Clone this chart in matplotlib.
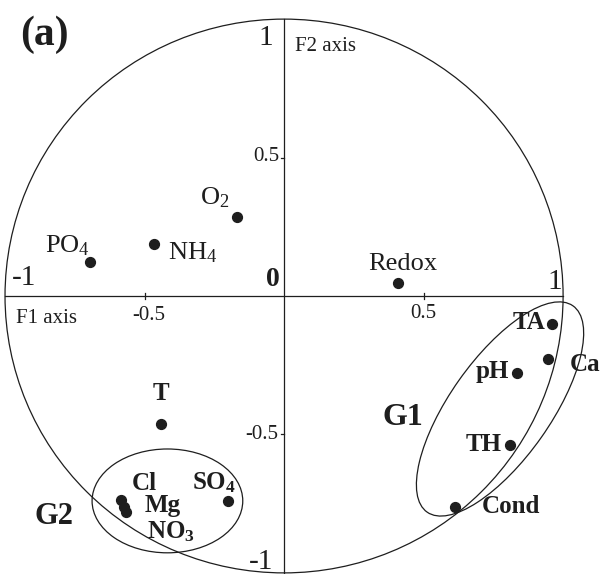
import matplotlib
matplotlib.use("Agg")
import matplotlib.pyplot as plt
from matplotlib.patches import Ellipse

plt.rcParams['font.family'] = ['Liberation Serif', 'DejaVu Serif']
plt.rcParams['mathtext.fontset'] = 'custom'
plt.rcParams['mathtext.rm'] = 'Liberation Serif'
plt.rcParams['mathtext.bf'] = 'Liberation Serif:bold'
plt.rcParams['mathtext.it'] = 'Liberation Serif:italic'

# ---- data (F1, F2 loadings) ----
variables = ['PO4', 'NH4', 'O2', 'Redox', 'TA', 'Ca', 'pH', 'TH', 'Cond',
             'T', 'SO4', 'Cl', 'Mg', 'NO3']
labels = [r'PO$_4$', r'NH$_4$', r'O$_2$', 'Redox', 'TA', 'Ca', 'pH', 'TH', 'Cond',
          'T', r'SO$_\mathbf{4}$', 'Cl', 'Mg', r'NO$_\mathbf{3}$']
f1 = [-0.695, -0.466, -0.168, 0.409, 0.961, 0.946, 0.835, 0.810, 0.613,
      -0.441, -0.201, -0.584, -0.573, -0.566]
f2 = [0.123, 0.188, 0.285, 0.047, -0.101, -0.227, -0.278, -0.538, -0.762,
      -0.462, -0.740, -0.736, -0.762, -0.780]
bold = [False, False, False, False, True, True, True, True, True,
        True, True, True, True, True]
# label offsets (points)
offsets = [(-16, 12), (28, -6), (-16, 14), (3, 14), (-17, 1), (27, -4),
           (-18, 1), (-19, 0), (40, 0), (0, 22), (-10, 13), (17, 12),
           (28, 1), (32, -14)]

fig = plt.figure(figsize=(6.03, 5.74), dpi=100)
ax = fig.add_axes([0, 0, 1, 1])
ax.set_xlim(-1.018, 1.143)
ax.set_ylim(-1.004, 1.069)
ax.axis('off')

ink = '#1e1e1e'
lw = 0.9
# correlation circle
ax.add_patch(Ellipse((0, 0), 2, 2, fill=False, lw=lw, color=ink))
# axes
ax.plot([-1, 1], [0, 0], color=ink, lw=lw)
ax.plot([0, 0], [-1, 1], color=ink, lw=lw)
# tick marks
for t in [-0.5, 0.5]:
    ax.plot([t, t], [-0.012, 0.012], color=ink, lw=lw)
    ax.plot([-0.012, 0], [t, t], color=ink, lw=lw)

# group ellipses
ax.add_patch(Ellipse((0.774, -0.408), 0.91, 0.36, angle=55, fill=False, lw=lw, color=ink))
ax.add_patch(Ellipse((-0.418, -0.740), 0.54, 0.375, angle=0, fill=False, lw=lw, color=ink))

# points & labels
ax.scatter(f1, f2, s=50, color=ink, zorder=3)
for x, y, lab, b, off in zip(f1, f2, labels, bold, offsets):
    ax.annotate(lab, (x, y), xytext=off, textcoords='offset points',
                ha='center', va='center', fontsize=18 if b else 19,
                fontweight='bold' if b else 'normal', color=ink)

# group labels
ax.text(0.427, -0.44, 'G1', fontsize=23, fontweight='bold', ha='center', va='center', color=ink)
ax.text(-0.826, -0.798, 'G2', fontsize=22, fontweight='bold', ha='center', va='center', color=ink)

# axis texts
ax.text(-0.858, 0.945, '(a)', fontsize=30, fontweight='bold', ha='center', va='center', color=ink)
ax.text(0.04, 0.90, 'F2 axis', fontsize=15, ha='left', va='center', color=ink)
ax.text(-0.96, -0.08, 'F1 axis', fontsize=15, ha='left', va='center', color=ink)

# tick labels
ax.text(-0.932, 0.065, '-1', fontsize=21, ha='center', va='center', color=ink)
ax.text(0.97, 0.05, '1', fontsize=21, ha='center', va='center', color=ink)
ax.text(-0.485, -0.07, '-0.5', fontsize=15, ha='center', va='center', color=ink)
ax.text(0.50, -0.062, '0.5', fontsize=15, ha='center', va='center', color=ink)
ax.text(-0.04, 0.058, '0', fontsize=20, fontweight='bold', ha='center', va='center', color=ink)
ax.text(-0.04, 0.933, '1', fontsize=21, ha='right', va='center', color=ink)
ax.text(-0.015, 0.502, '0.5', fontsize=15, ha='right', va='center', color=ink)
ax.text(-0.022, -0.502, '-0.5', fontsize=15, ha='right', va='center', color=ink)
ax.text(-0.04, -0.960, '-1', fontsize=21, ha='right', va='center', color=ink)

fig.savefig('out.png', dpi=100)
